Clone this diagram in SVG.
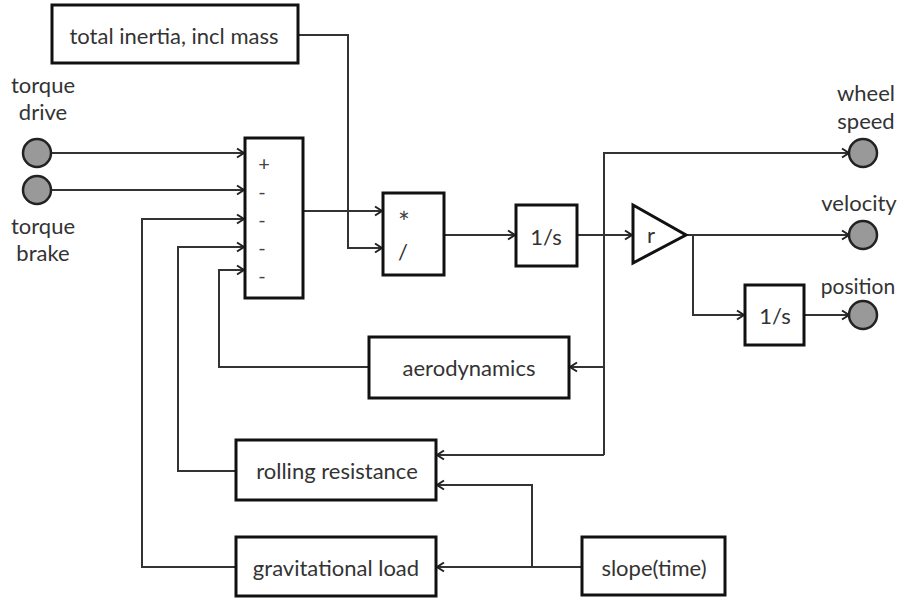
<svg xmlns="http://www.w3.org/2000/svg" width="898" height="598" viewBox="0 0 898 598">
<style>
.box{fill:#fff;stroke:#111;stroke-width:3}
.ln{fill:none;stroke:#333;stroke-width:2}
.port{fill:#999;stroke:#222;stroke-width:2.5}
.sg{font-size:20px;fill:#444}
text{font-family:Lato,"Liberation Sans",sans-serif;font-size:22px;fill:#333;text-anchor:middle;dominant-baseline:central}
</style>
<defs>
<marker id="ah" markerWidth="12" markerHeight="12" refX="10" refY="6" orient="auto" markerUnits="userSpaceOnUse">
<path d="M3,1.5 L10,6 L3,10.5" fill="none" stroke="#222" stroke-width="2"/>
</marker>
</defs>
<rect width="898" height="598" fill="#fff"/>
<g id="connectors">
<path class="ln" d="M298,35 H348 V248 H382" marker-end="url(#ah)"/>
<path class="ln" d="M51,153 H244" marker-end="url(#ah)"/>
<path class="ln" d="M51,190 H244" marker-end="url(#ah)"/>
<path class="ln" d="M303,211 H382" marker-end="url(#ah)"/>
<path class="ln" d="M444,235 H515" marker-end="url(#ah)"/>
<path class="ln" d="M577,235 H632" marker-end="url(#ah)"/>
<path class="ln" d="M604,455 V153 H849" marker-end="url(#ah)"/>
<path class="ln" d="M686,235 H849" marker-end="url(#ah)"/>
<path class="ln" d="M693,235 V315 H744" marker-end="url(#ah)"/>
<path class="ln" d="M804,315 H849" marker-end="url(#ah)"/>
<path class="ln" d="M604,367 H570" marker-end="url(#ah)"/>
<path class="ln" d="M604,455 H437" marker-end="url(#ah)"/>
<path class="ln" d="M532,567 V485 H437" marker-end="url(#ah)"/>
<path class="ln" d="M582,567 H437" marker-end="url(#ah)"/>
<path class="ln" d="M369,367 H219 V270 H244" marker-end="url(#ah)"/>
<path class="ln" d="M236,471 H178 V247 H244" marker-end="url(#ah)"/>
<path class="ln" d="M236,567 H142 V219 H244" marker-end="url(#ah)"/>
</g>
<g id="inertia"><rect class="box" x="52" y="5" width="246" height="58"/><text x="174" y="35">total inertia, incl mass</text></g>
<g id="torque-drive"><circle class="port" cx="37" cy="153" r="14"/><text x="43" y="84">torque</text><text x="43" y="111">drive</text></g>
<g id="torque-brake"><circle class="port" cx="37" cy="190" r="14"/><text x="43" y="225">torque</text><text x="43" y="252">brake</text></g>
<g id="sum"><rect class="box" x="245" y="138" width="58" height="160"/>
<text class="sg" x="264" y="163">+</text><text class="sg" x="262" y="191">-</text><text class="sg" x="262" y="219">-</text><text class="sg" x="262" y="247">-</text><text class="sg" x="262" y="275">-</text></g>
<g id="muldiv"><rect class="box" x="383" y="193" width="61" height="82"/><text x="404" y="222" style="font-size:28px;fill:#444">*</text><text x="403" y="251">/</text></g>
<g id="integrator1"><rect class="box" x="516" y="205" width="61" height="61"/><text x="546" y="236">1/s</text></g>
<g id="gain"><path class="box" d="M633,205 L686,235 L633,263 Z"/><text x="651" y="234">r</text></g>
<g id="integrator2"><rect class="box" x="745" y="285" width="59" height="60"/><text x="775" y="315">1/s</text></g>
<g id="wheel-speed"><circle class="port" cx="863" cy="153" r="14"/><text x="866" y="92">wheel</text><text x="866" y="120">speed</text></g>
<g id="velocity"><circle class="port" cx="863" cy="235" r="14"/><text x="859" y="202">velocity</text></g>
<g id="position"><circle class="port" cx="863" cy="315" r="14"/><text x="858" y="285" style="font-size:21px">position</text></g>
<g id="aerodynamics"><rect class="box" x="369" y="337" width="200" height="61"/><text x="469" y="367">aerodynamics</text></g>
<g id="rolling-resistance"><rect class="box" x="236" y="440" width="200" height="60"/><text x="337" y="470">rolling resistance</text></g>
<g id="gravitational-load"><rect class="box" x="236" y="537" width="200" height="59"/><text x="336" y="567">gravitational load</text></g>
<g id="slope"><rect class="box" x="582" y="537" width="143" height="58"/><text x="654" y="567">slope(time)</text></g>
</svg>
